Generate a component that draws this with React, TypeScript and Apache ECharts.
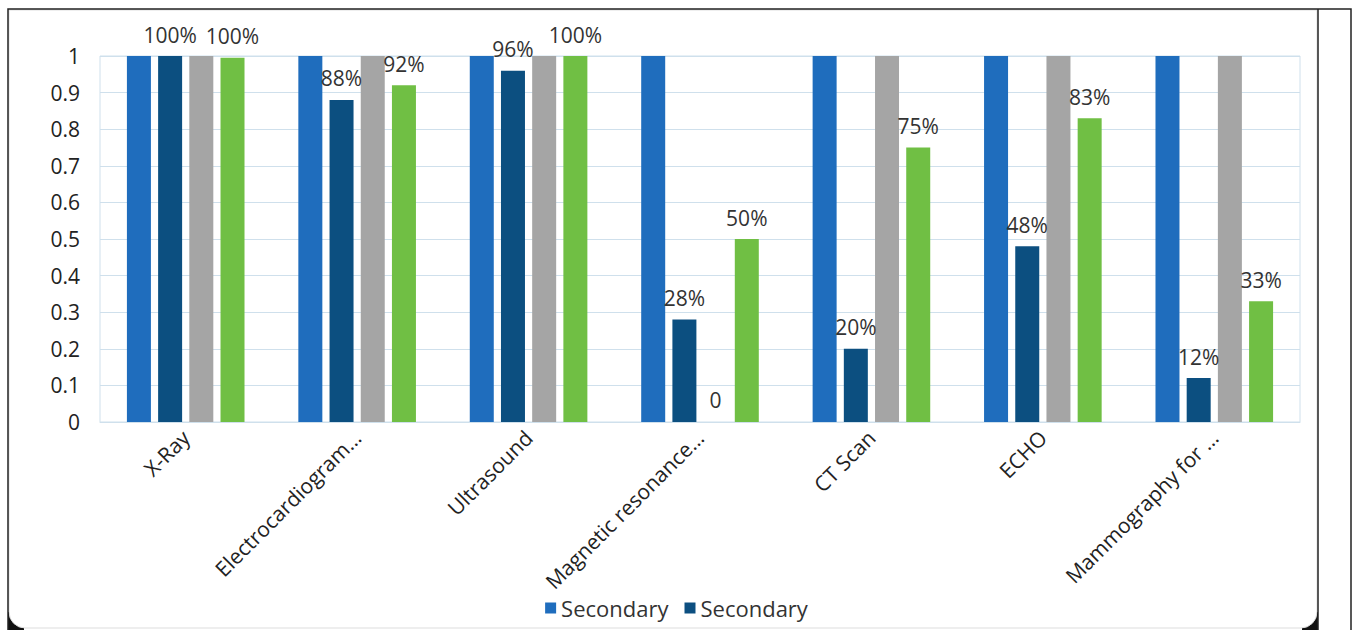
import React, { useEffect, useRef } from "react";
import * as echarts from "echarts";

const categories = [
  "X-Ray",
  "Electrocardiogram…",
  "Ultrasound",
  "Magnetic resonance…",
  "CT Scan",
  "ECHO",
  "Mammography for …",
];
const blueValues = [1, 1, 1, 1, 1, 1, 1];
const navyValues = [1, 0.88, 0.96, 0.28, 0.2, 0.48, 0.12];
const grayValues = [1, 1, 1, 0, 1, 1, 1];
const greenValues = [0.995, 0.92, 1, 0.5, 0.75, 0.83, 0.33];
const legendLabel = "Secondary";

const FONT = "'Open Sans', 'Noto Sans', sans-serif";

export default function App() {
  const ref = useRef<HTMLDivElement>(null);
  useEffect(() => {
    if (!ref.current) return;
    const chart = echarts.init(ref.current, null, { renderer: "svg" });
    const pct = (p: any) => Math.round(p.value * 100) + "%";
    const labelStyle = {
      show: true,
      position: "top",
      distance: 11,
      fontFamily: FONT,
      fontSize: 21,
      color: "#333",
      formatter: pct,
    };
    chart.setOption({
      animation: false,
      backgroundColor: "#fff",
      graphic: [
        { type: "rect", shape: { x: 8, y: 612, width: 16, height: 18 }, style: { fill: "#111" }, z: -10 },
        { type: "rect", shape: { x: 1302, y: 612, width: 16, height: 18 }, style: { fill: "#111" }, z: -10 },
        {
          type: "rect",
          shape: { x: 9, y: 10, width: 1308, height: 618, r: [0, 0, 16, 16] },
          style: { fill: "#fff", stroke: "#ddd", lineWidth: 1 },
          z: -9,
        },
        {
          type: "polyline",
          shape: { points: [[8, 630], [8, 9], [1351, 9], [1351, 630]] },
          style: { stroke: "#222", lineWidth: 1.5, fill: "none" },
          z: -8,
        },
        {
          type: "line",
          shape: { x1: 1318, y1: 9, x2: 1318, y2: 630 },
          style: { stroke: "#222", lineWidth: 1.5 },
          z: -8,
        },
      ],
      legend: {
        data: ["s1", "s2"],
        formatter: () => legendLabel,
        bottom: 6,
        left: "center",
        icon: "rect",
        itemWidth: 11,
        itemHeight: 11,
        itemGap: 16,
        textStyle: { fontFamily: FONT, fontSize: 22, color: "#333" },
      },
      grid: {
        left: 100,
        right: 53,
        top: 56,
        bottom: 208,
        show: true,
        borderColor: "#cfe0ec",
        borderWidth: 1,
      },
      xAxis: {
        type: "category",
        data: categories,
        axisLine: { lineStyle: { color: "#cfe0ec" } },
        axisTick: { show: false },
        axisLabel: {
          rotate: 45,
          interval: 0,
          margin: 12,
          fontFamily: FONT,
          fontSize: 21,
          color: "#222",
        },
      },
      yAxis: {
        type: "value",
        min: 0,
        max: 1,
        interval: 0.1,
        splitLine: { lineStyle: { color: "#cfe0ec" } },
        axisLabel: { fontFamily: FONT, fontSize: 21, color: "#222", margin: 20 },
      },
      series: [
        { name: "s1", type: "bar", data: blueValues, barWidth: 24, barGap: "30%", itemStyle: { color: "#1f6dbd" } },
        { name: "s2", type: "bar", data: navyValues, barWidth: 24, barGap: "30%", itemStyle: { color: "#0c4f80" }, label: labelStyle },
        {
          name: "s3",
          type: "bar",
          data: grayValues.map((v) => (v === 0 ? { value: v, label: { show: true, formatter: "0", distance: 12 } } : v)),
          barWidth: 24,
          barGap: "30%",
          itemStyle: { color: "#a5a5a5" },
          label: { show: false, position: "top", fontFamily: FONT, fontSize: 21, color: "#333" },
        },
        { name: "s4", type: "bar", data: greenValues, barWidth: 24, barGap: "30%", itemStyle: { color: "#70bf44" }, label: labelStyle },
      ],
    });
    return () => chart.dispose();
  }, []);
  return (
    <div
      ref={ref}
      style={{ position: "fixed", left: 0, top: 0, width: 1353, height: 630 }}
    />
  );
}
